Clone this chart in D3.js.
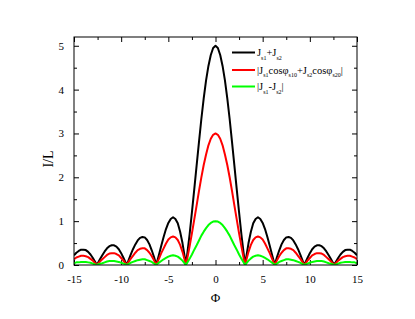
<!DOCTYPE html>
<html>
<head>
<meta charset="utf-8">
<script src="https://cdn.jsdelivr.net/npm/d3@7"></script>
<style>
  body { margin: 0; background: #fff; }
  svg text { font-family: "Liberation Serif", "DejaVu Serif", serif; fill: #000; }
</style>
</head>
<body>
<svg id="chart" width="415" height="319"></svg>
<script>
// values, Phi from -15 to 15
const phi = [-15,-14.75,-14.5,-14.25,-14,-13.75,-13.5,-13.25,-13,-12.75,-12.57,-12.5,-12.25,-12,-11.75,-11.5,-11.25,-11,-10.75,-10.5,
  -10.25,-10,-9.75,-9.5,-9.42,-9.25,-9,-8.75,-8.5,-8.25,-8,-7.75,-7.5,-7.25,-7,-6.75,-6.5,-6.28,-6.25,-6,
  -5.75,-5.5,-5.25,-5,-4.75,-4.5,-4.25,-4,-3.75,-3.5,-3.25,-3.14,-3,-2.75,-2.5,-2.25,-2,-1.75,-1.5,-1.25,
  -1,-0.75,-0.5,-0.25,0,
  0.25,0.5,0.75,1,1.25,1.5,1.75,2,2.25,2.5,2.75,3,3.14,3.25,3.5,3.75,4,4.25,4.5,4.75,
  5,5.25,5.5,5.75,6,6.25,6.28,6.5,6.75,7,7.25,7.5,7.75,8,8.25,8.5,8.75,9,9.25,9.42,
  9.5,9.75,10,10.25,10.5,10.75,11,11.25,11.5,11.75,12,12.25,12.5,12.57,12.75,13,13.25,13.5,13.75,14,
  14.25,14.5,14.75,15]

const sumJ = [0.22,0.28,0.32,0.35,0.35,0.34,0.30,0.24,0.16,0.07,0,0.03,0.13,0.22,0.31,0.38,0.43,0.45,0.45,0.42,
  0.36,0.27,0.16,0.04,0,0.09,0.23,0.36,0.47,0.56,0.62,0.64,0.63,0.57,0.47,0.33,0.17,0,0.03,0.23,
  0.44,0.64,0.82,0.96,1.05,1.09,1.05,0.95,0.76,0.50,0.17,0,0.24,0.69,1.20,1.73,2.27,2.81,3.33,3.80,
  4.21,4.54,4.79,4.95,5.00,
  4.95,4.79,4.54,4.21,3.80,3.33,2.81,2.27,1.73,1.20,0.69,0.24,0,0.17,0.50,0.76,0.95,1.05,1.09,1.05,
  0.96,0.82,0.64,0.44,0.23,0.03,0,0.17,0.33,0.47,0.57,0.63,0.64,0.62,0.56,0.47,0.36,0.23,0.09,0,
  0.04,0.16,0.27,0.36,0.42,0.45,0.45,0.43,0.38,0.31,0.22,0.13,0.03,0,0.07,0.16,0.24,0.30,0.34,0.35,
  0.35,0.32,0.28,0.22]

const cosJ = [0.13,0.17,0.19,0.21,0.21,0.20,0.18,0.14,0.10,0.04,0,0.02,0.08,0.13,0.18,0.23,0.26,0.27,0.27,0.25,
  0.22,0.16,0.10,0.02,0,0.06,0.14,0.21,0.28,0.34,0.37,0.38,0.38,0.34,0.28,0.20,0.10,0,0.02,0.14,
  0.27,0.38,0.49,0.58,0.63,0.65,0.63,0.57,0.46,0.30,0.10,0,0.14,0.42,0.72,1.04,1.36,1.69,2.00,2.28,
  2.52,2.73,2.88,2.97,3.00,
  2.97,2.88,2.73,2.52,2.28,2.00,1.69,1.36,1.04,0.72,0.42,0.14,0,0.10,0.30,0.46,0.57,0.63,0.65,0.63,
  0.58,0.49,0.38,0.27,0.14,0.02,0,0.10,0.20,0.28,0.34,0.38,0.38,0.37,0.34,0.28,0.21,0.14,0.06,0,
  0.02,0.10,0.16,0.22,0.25,0.27,0.27,0.26,0.23,0.18,0.13,0.08,0.02,0,0.04,0.10,0.14,0.18,0.20,0.21,
  0.21,0.19,0.17,0.13]

const diffJ = [0.04,0.06,0.06,0.07,0.07,0.07,0.06,0.05,0.03,0.01,0,0.01,0.03,0.04,0.06,0.08,0.09,0.09,0.09,0.08,
  0.07,0.05,0.03,0.01,0,0.02,0.05,0.07,0.09,0.11,0.12,0.13,0.13,0.11,0.09,0.07,0.03,0,0.01,0.05,
  0.09,0.13,0.16,0.19,0.21,0.22,0.21,0.19,0.15,0.10,0.03,0,0.05,0.14,0.24,0.35,0.45,0.56,0.67,0.76,
  0.84,0.91,0.96,0.99,1.00,
  0.99,0.96,0.91,0.84,0.76,0.67,0.56,0.45,0.35,0.24,0.14,0.05,0,0.03,0.10,0.15,0.19,0.21,0.22,0.21,
  0.19,0.16,0.13,0.09,0.05,0.01,0,0.03,0.07,0.09,0.11,0.13,0.13,0.12,0.11,0.09,0.07,0.05,0.02,0,
  0.01,0.03,0.05,0.07,0.08,0.09,0.09,0.09,0.08,0.06,0.04,0.03,0.01,0,0.01,0.03,0.05,0.06,0.07,0.07,
  0.07,0.06,0.06,0.04]

const xTicks = [-15,-10,-5,0,5,10,15]
const yTicks = [0,1,2,3,4,5]

const series = [
  {name: 'sum', values: sumJ, color: '#000000'},
  {name: 'cos', values: cosJ, color: '#ff0000'},
  {name: 'diff', values: diffJ, color: '#00ff00'}
]

const plotLeft = 74, plotRight = 357, plotTop = 37, plotBottom = 265

const x = d3.scaleLinear().domain([-15, 15]).range([plotLeft, plotRight])
const y = d3.scaleLinear().domain([0, 5.2]).range([plotBottom, plotTop])

const svg = d3.select('#chart')

svg.append('clipPath').attr('id', 'plot-clip')
  .append('rect')
  .attr('x', plotLeft).attr('y', plotTop)
  .attr('width', plotRight - plotLeft).attr('height', plotBottom - plotTop)

// minor ticks first, then major ones with labels
function minorAxis(axis, scale, pos, vals) {
  const g = svg.append('g').attr('transform', pos)
    .call(axis(scale).tickValues(vals).tickSize(-3).tickFormat(''))
  g.select('.domain').remove()
  g.selectAll('line').attr('stroke', '#000')
}

const xMinor = d3.range(-12.5, 15, 5)
const yMinor = d3.range(0.5, 5.2, 1)
minorAxis(d3.axisBottom, x, `translate(0,${plotBottom})`, xMinor)
minorAxis(d3.axisTop, x, `translate(0,${plotTop})`, xMinor)
minorAxis(d3.axisLeft, y, `translate(${plotLeft},0)`, yMinor)
minorAxis(d3.axisRight, y, `translate(${plotRight},0)`, yMinor)

const xAxis = svg.append('g').attr('transform', `translate(0,${plotBottom})`)
  .call(d3.axisBottom(x).tickValues(xTicks).tickSize(-5).tickPadding(10).tickFormat(d => String(d)))
const xTop = svg.append('g').attr('transform', `translate(0,${plotTop})`)
  .call(d3.axisTop(x).tickValues(xTicks).tickSize(-5).tickFormat(''))
const yAxis = svg.append('g').attr('transform', `translate(${plotLeft},0)`)
  .call(d3.axisLeft(y).tickValues(yTicks).tickSize(-5).tickPadding(10).tickFormat(d => String(d)))
const yRight = svg.append('g').attr('transform', `translate(${plotRight},0)`)
  .call(d3.axisRight(y).tickValues(yTicks).tickSize(-5).tickFormat(''))

;[xAxis, xTop, yAxis, yRight].forEach(g => {
  g.select('.domain').remove()
  g.selectAll('line').attr('stroke', '#000')
  g.selectAll('text').attr('font-size', 11).attr('font-family', '"Liberation Serif", serif')
})

const line = d3.line()
  .x((d, i) => x(phi[i]))
  .y(d => y(d))

svg.append('g')
  .attr('clip-path', 'url(#plot-clip)')
  .selectAll('path')
  .data(series)
  .enter()
  .append('path')
  .attr('fill', 'none')
  .attr('stroke', d => d.color)
  .attr('stroke-width', 2)
  .attr('stroke-linejoin', 'round')
  .attr('d', d => line(d.values))

svg.append('rect')
  .attr('x', plotLeft).attr('y', plotTop)
  .attr('width', plotRight - plotLeft).attr('height', plotBottom - plotTop)
  .attr('fill', 'none')
  .attr('stroke', '#000')
  .attr('stroke-width', 1)

// axis titles
svg.append('text')
  .attr('x', (plotLeft + plotRight) / 2)
  .attr('y', 302)
  .attr('text-anchor', 'middle')
  .attr('font-size', 13)
  .text('Φ')

svg.append('text')
  .attr('transform', `translate(53,${(plotTop + plotBottom) / 2 + 8}) rotate(-90)`)
  .attr('text-anchor', 'middle')
  .attr('font-size', 14)
  .text('I/L')

// legend, text pieces: [text, isSubscript]
const legendParts = [
  [['J', 0], ['s1', 1], ['+J', 0], ['s2', 1]],
  [['|J', 0], ['s1', 1], ['cosφ', 0], ['s10', 1], ['+J', 0], ['s2', 1], ['cosφ', 0], ['s20', 1], ['|', 0]],
  [['|J', 0], ['s1', 1], ['-J', 0], ['s2', 1], ['|', 0]]
]
const legendY = [52.5, 70, 86.5]

const legend = svg.append('g').attr('class', 'legend')
series.forEach((s, i) => {
  legend.append('line')
    .attr('x1', 232).attr('x2', 255)
    .attr('y1', legendY[i]).attr('y2', legendY[i])
    .attr('stroke', s.color)
    .attr('stroke-width', 2)
  const t = legend.append('text')
    .attr('x', 257)
    .attr('y', legendY[i] + 3.5)
    .attr('font-size', 10.5)
    .attr('font-family', '"Liberation Serif", serif')
  let shifted = false
  legendParts[i].forEach(([str, sub]) => {
    const ts = t.append('tspan').text(str)
    if (sub && !shifted) { ts.attr('dy', 3.5).attr('font-size', 6); shifted = true }
    else if (sub) { ts.attr('font-size', 6) }
    else if (!sub && shifted) { ts.attr('dy', -3.5); shifted = false }
  })
})
</script>
</body>
</html>
